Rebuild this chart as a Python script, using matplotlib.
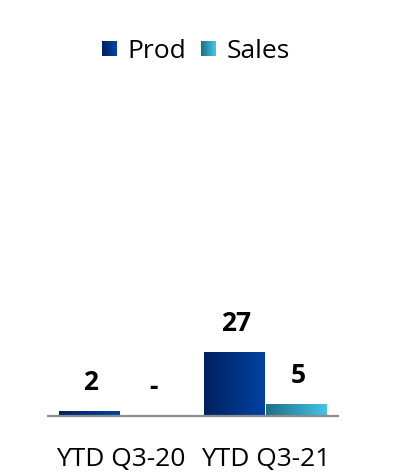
import numpy as np
import matplotlib
matplotlib.use("Agg")
import matplotlib.pyplot as plt
from matplotlib.colors import LinearSegmentedColormap
from matplotlib.patches import Rectangle
from matplotlib.legend_handler import HandlerBase

# Data
categories = ["YTD Q3-20", "YTD Q3-21"]
series_names = ["Prod", "Sales"]
prod_values = [2, 27]
sales_values = [0, 5]
value_labels_prod = ["2", "27"]
value_labels_sales = ["-", "5"]

# Gradient colours (left -> right) per series
prod_grad = ("#00215F", "#0042A4")
sales_grad = ("#1E6F86", "#43C3E6")

plt.rcParams["font.family"] = ["Open Sans", "DejaVu Sans"]
FS = 19

W, H = 398, 472
fig = plt.figure(figsize=(W / 100, H / 100), dpi=100)
ax = fig.add_axes([48 / W, 56 / H, 290 / W, 326 / H])

x = np.arange(len(categories))
bw = 0.42
off = 0.215


def gradient_fill(ax, patch, c0, c1):
    h = patch.get_height()
    if h <= 0:
        return
    x0, y0, w = patch.get_x(), patch.get_y(), patch.get_width()
    cmap = LinearSegmentedColormap.from_list("g", [c0, c1])
    grad = np.linspace(0, 1, 256).reshape(1, -1)
    im = ax.imshow(grad, extent=(x0, x0 + w, y0, y0 + h), cmap=cmap,
                   aspect="auto", interpolation="bilinear",
                   zorder=patch.get_zorder() + 0.1)
    im.set_clip_path(patch)


bars_p = ax.bar(x - off, prod_values, bw, color=prod_grad[1], zorder=2)
bars_s = ax.bar(x + off, sales_values, bw, color=sales_grad[1], zorder=2)
for b in bars_p:
    gradient_fill(ax, b, *prod_grad)
for b in bars_s:
    gradient_fill(ax, b, *sales_grad)

ax.set_xlim(-0.5, 1.5)
ax.set_ylim(0, 137.5)

# Value labels above bars
for bars, labels in ((bars_p, value_labels_prod), (bars_s, value_labels_sales)):
    for b, lab in zip(bars, labels):
        ax.annotate(lab, (b.get_x() + b.get_width() / 2, b.get_height()),
                    xytext=(1, 15), textcoords="offset points",
                    ha="center", va="baseline", fontsize=FS,
                    fontweight="bold", color="black", zorder=5)

for s in ("top", "right", "left"):
    ax.spines[s].set_visible(False)
ax.spines["bottom"].set_color("#8C8C8C")
ax.spines["bottom"].set_linewidth(1.6)
ax.spines["bottom"].set_zorder(4)
ax.set_yticks([])
ax.set_xticks(x)
ax.set_xticklabels(categories, fontsize=FS, color="black")
ax.tick_params(axis="x", length=0, pad=22)


class GradientSquare(HandlerBase):
    def __init__(self, c0, c1, n=24):
        super().__init__()
        self.cmap = LinearSegmentedColormap.from_list("g", [c0, c1])
        self.n = n

    def create_artists(self, legend, orig_handle, xdescent, ydescent,
                       width, height, fontsize, trans):
        side = min(width, height)
        x0 = -xdescent + (width - side) / 2
        y0 = -ydescent + (height - side) / 2
        arts = []
        for i in range(self.n):
            r = Rectangle((x0 + side * i / self.n, y0), side / self.n * 1.1, side,
                          facecolor=self.cmap(i / (self.n - 1)), edgecolor="none",
                          transform=trans)
            arts.append(r)
        return arts


h_prod = Rectangle((0, 0), 1, 1)
h_sales = Rectangle((0, 0), 1, 1)
fig.legend([h_prod, h_sales], series_names, loc="center",
           bbox_to_anchor=(196 / W, 1 - 51 / H), ncol=2, frameon=False,
           fontsize=FS, handlelength=0.56, handleheight=0.56,
           handletextpad=0.42, columnspacing=0.55,
           handler_map={h_prod: GradientSquare(*prod_grad),
                        h_sales: GradientSquare(*sales_grad)})

fig.savefig("out.png", dpi=100, facecolor="white")
